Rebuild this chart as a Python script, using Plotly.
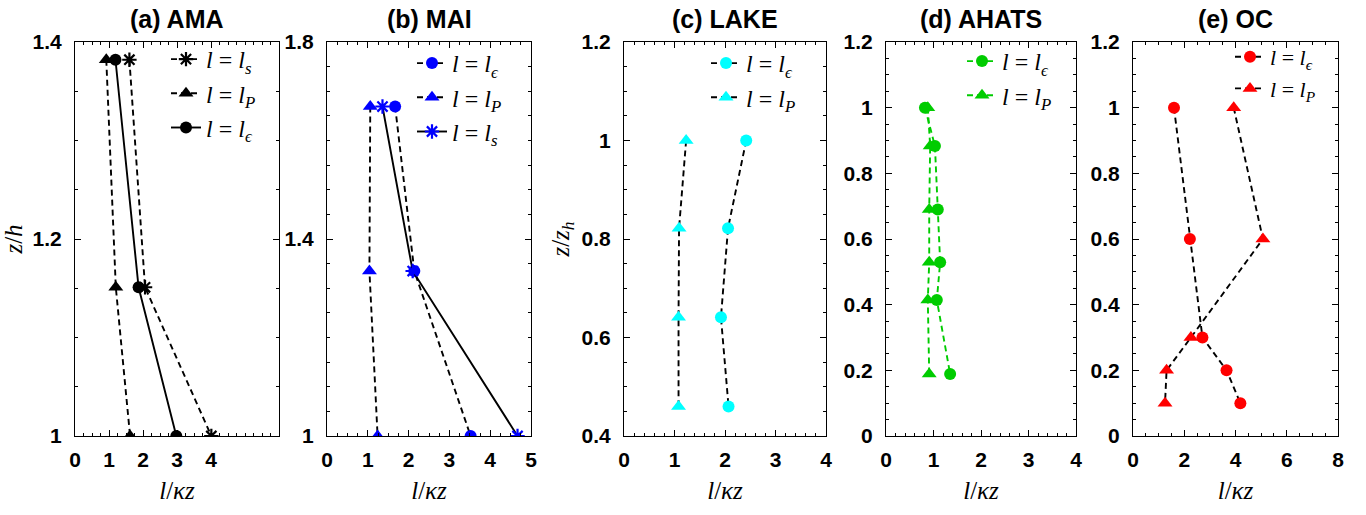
import plotly.graph_objects as go

W, H = 1366, 515

# ---------------- data ----------------
# (a) AMA
ama_z = [1.382, 1.151, 1.0]
ama_ls = [1.60, 2.06, 4.01]
ama_lp = [0.92, 1.20, 1.62]
ama_le = [1.19, 1.87, 2.98]

# (b) MAI
mai_z = [1.669, 1.335, 1.0]
mai_le = [1.67, 2.14, 3.52]
mai_lp = [1.06, 1.04, 1.24]
mai_ls = [1.36, 2.10, 4.67]

# (c) LAKE
lake_z = [1.0, 0.822, 0.641, 0.46]
lake_le = [2.42, 2.06, 1.92, 2.07]
lake_lp = [1.23, 1.09, 1.08, 1.08]

# (d) AHATS
ahats_z = [1.0, 0.883, 0.69, 0.529, 0.414, 0.189]
ahats_le = [0.82, 1.03, 1.09, 1.14, 1.07, 1.35]
ahats_lp = [0.88, 0.93, 0.91, 0.91, 0.88, 0.91]

# (e) OC
oc_z = [1.0, 0.6, 0.3, 0.2, 0.1]
oc_le = [1.60, 2.22, 2.71, 3.65, 4.19]
oc_lp = [3.93, 5.07, 2.26, 1.31, 1.25]

titles = ["(a) AMA", "(b) MAI", "(c) LAKE", "(d) AHATS", "(e) OC"]

# ---------------- layout geometry (pixels) ----------------
px_x = [(75, 279), (327, 531), (624, 826), (886, 1076), (1133, 1338)]
px_top, px_bot = 42, 436
ydom = [(H - px_bot) / H, (H - px_top) / H]

xranges = [[0, 6], [0, 5], [0, 4], [0, 4], [0, 8]]
xtickvals = [[0, 1, 2, 3, 4], [0, 1, 2, 3, 4, 5], [0, 1, 2, 3, 4], [0, 1, 2, 3, 4], [0, 2, 4, 6, 8]]
xminor = [0.25, 0.25, 0.2, 0.2, 0.5]
yranges = [[1, 1.4], [1, 1.8], [0.4, 1.2], [0, 1.2], [0, 1.2]]
ytickvals = [[1, 1.2, 1.4], [1, 1.4, 1.8], [0.4, 0.6, 0.8, 1.0, 1.2],
             [0, 0.2, 0.4, 0.6, 0.8, 1.0, 1.2], [0, 0.2, 0.4, 0.6, 0.8, 1.0, 1.2]]
yticktext = [["1", "1.2", "1.4"], ["1", "1.4", "1.8"], ["0.4", "0.6", "0.8", "1", "1.2"],
             ["0", "0.2", "0.4", "0.6", "0.8", "1", "1.2"], ["0", "0.2", "0.4", "0.6", "0.8", "1", "1.2"]]
ytitles = ["<i>z</i>/<i>h</i>", None, "<i>z</i>/<i>z</i><sub><i>h</i></sub>", None, None]

# legend positions: (text left px, first row centre px, font size)
leg_pos = [(206, 61, 24), (452, 65, 24), (746, 65, 24), (1002, 63, 24), (1270, 60, 22)]

BLACK = "#000000"
BLUE = "#0000FF"
CYAN = "#00FFFF"
GREEN = "#00CC00"
RED = "#FF0000"

LE = "<i>l</i> = <i>l</i><sub><i>ϵ</i></sub>"
LP = "<i>l</i> = <i>l</i><sub><i>P</i></sub>"
LS = "<i>l</i> = <i>l</i><sub><i>s</i></sub>"

DASH = "6px,4px"

fig = go.Figure()


def add(panel, x, y, name, symbol, mcolor, lcolor, dash):
    idx = panel + 1
    xa = "x" if idx == 1 else f"x{idx}"
    ya = "y" if idx == 1 else f"y{idx}"
    lg = "legend" if idx == 1 else f"legend{idx}"
    if symbol == "asterisk-open":
        marker = dict(symbol=symbol, size=12, color=mcolor, line=dict(color=mcolor, width=2.2))
    elif symbol == "triangle-up":
        marker = dict(symbol=symbol, size=13, color=mcolor, line=dict(width=0))
    else:
        marker = dict(symbol=symbol, size=12, color=mcolor, line=dict(width=0))
    fig.add_trace(go.Scatter(
        x=x, y=y, name=name, mode="lines+markers", xaxis=xa, yaxis=ya,
        legend=lg,
        line=dict(color=lcolor, width=1.9, dash=dash), marker=marker,
    ))


# (a)
add(0, ama_ls, ama_z, LS, "asterisk-open", BLACK, BLACK, DASH)
add(0, ama_lp, ama_z, LP, "triangle-up", BLACK, BLACK, DASH)
add(0, ama_le, ama_z, LE, "circle", BLACK, BLACK, "solid")
# (b)
add(1, mai_le, mai_z, LE, "circle", BLUE, BLACK, DASH)
add(1, mai_lp, mai_z, LP, "triangle-up", BLUE, BLACK, DASH)
add(1, mai_ls, mai_z, LS, "asterisk-open", BLUE, BLACK, "solid")
# (c)
add(2, lake_le, lake_z, LE, "circle", CYAN, BLACK, DASH)
add(2, lake_lp, lake_z, LP, "triangle-up", CYAN, BLACK, DASH)
# (d)
add(3, ahats_le, ahats_z, LE, "circle", GREEN, GREEN, DASH)
add(3, ahats_lp, ahats_z, LP, "triangle-up", GREEN, GREEN, DASH)
# (e)
add(4, oc_le, oc_z, LE, "circle", RED, BLACK, DASH)
add(4, oc_lp, oc_z, LP, "triangle-up", RED, BLACK, DASH)

tickfont = dict(family="Liberation Sans", size=21, color="black")
titlefont = dict(family="Liberation Serif", size=25, color="black")


def b(s):
    return f"<b>{s}</b>"


layout = dict(
    width=W, height=H, margin=dict(l=0, r=0, t=0, b=0, autoexpand=False),
    paper_bgcolor="white", plot_bgcolor="white", showlegend=True,
    annotations=[],
)

for i in range(5):
    idx = i + 1
    xk = "xaxis" if idx == 1 else f"xaxis{idx}"
    yk = "yaxis" if idx == 1 else f"yaxis{idx}"
    xname = "x" if idx == 1 else f"x{idx}"
    yname = "y" if idx == 1 else f"y{idx}"
    x0, x1 = px_x[i]
    layout[xk] = dict(
        domain=[x0 / W, x1 / W], anchor=yname, range=xranges[i], automargin=False,
        tickmode="array", tickvals=xtickvals[i],
        ticktext=[b(v) for v in xtickvals[i]],
        ticks="inside", ticklen=6, tickwidth=1, tickcolor="black",
        minor=dict(ticks="inside", dtick=xminor[i], tick0=0, ticklen=3, tickcolor="black", tickwidth=1),
        showline=True, linecolor="black", linewidth=1.2, mirror="ticks",
        showgrid=False, zeroline=False, tickfont=tickfont, ticklabelstandoff=5,
        title=dict(text="<i>l</i>/<i>κz</i>", font=titlefont, standoff=11),
    )
    ydict = dict(
        domain=ydom, anchor=xname, range=yranges[i], automargin=False,
        tickmode="array", tickvals=ytickvals[i], ticktext=[b(t) for t in yticktext[i]],
        ticks="inside", ticklen=6, tickwidth=1, tickcolor="black",
        minor=dict(ticks="inside", dtick=0.05, tick0=0, ticklen=3, tickcolor="black", tickwidth=1),
        showline=True, linecolor="black", linewidth=1.2, mirror="ticks",
        showgrid=False, zeroline=False, tickfont=tickfont, ticklabelstandoff=8,
    )
    if ytitles[i]:
        ydict["title"] = dict(text=ytitles[i], font=titlefont, standoff=4)
    layout[yk] = ydict

    # legend
    tx, ry, fs = leg_pos[i]
    lk = "legend" if idx == 1 else f"legend{idx}"
    layout[lk] = dict(
        x=(tx - 40) / W, y=(H - (ry - 24)) / H, xanchor="left", yanchor="top",
        bgcolor="rgba(0,0,0,0)", borderwidth=0,
        font=dict(family="Liberation Serif", size=fs, color="black"),
        traceorder="normal", itemwidth=30,
    )

    # panel title
    layout["annotations"].append(dict(
        text=b(titles[i]), x=(x0 + x1) / 2 / W, y=(H - 19) / H, xref="paper", yref="paper",
        showarrow=False, xanchor="center", yanchor="middle",
        font=dict(family="Liberation Sans", size=25, color="black"),
    ))

fig.update_layout(**layout)
fig.write_html("out.html")
